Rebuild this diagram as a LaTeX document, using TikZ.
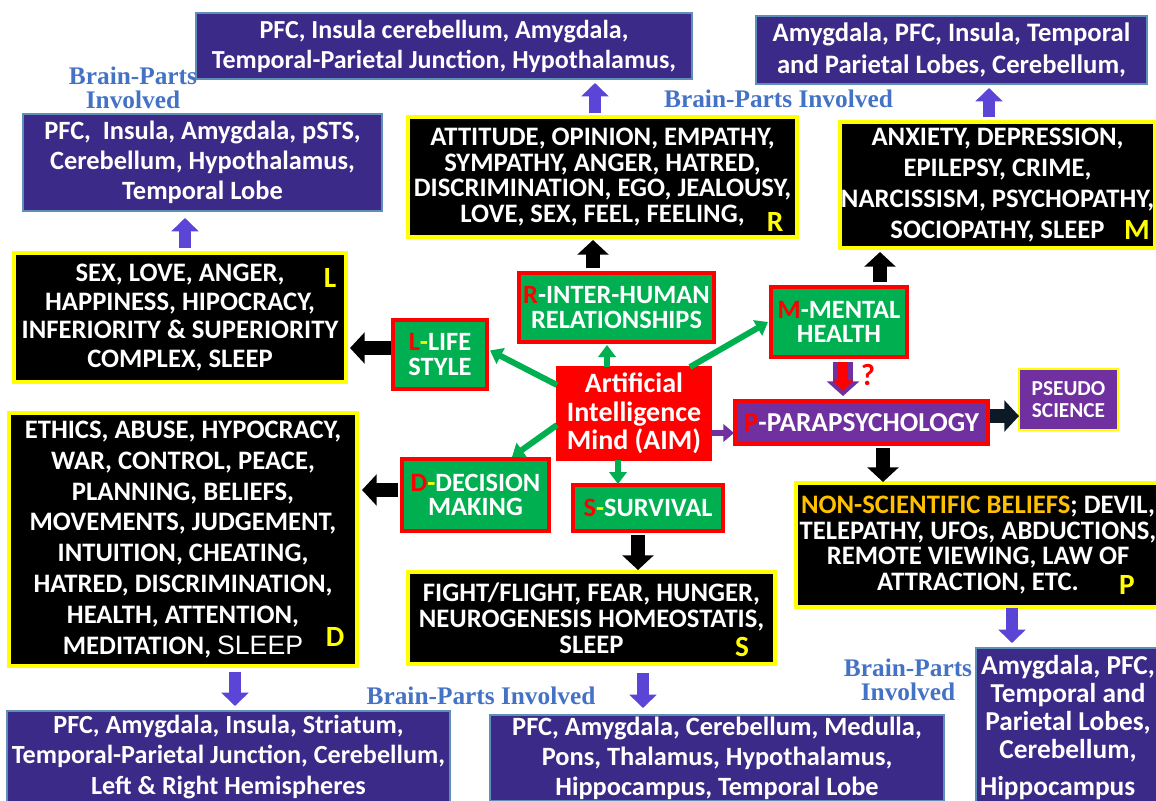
\documentclass[tikz,border=0pt]{standalone}
\usepackage{fontspec}
\setmainfont{Carlito}
\newfontfamily\serifbp{Liberation Serif}
\newfontfamily\arialf{Liberation Sans}
\usetikzlibrary{arrows.meta,calc}
\definecolor{bpurple}{HTML}{3B2A88}
\definecolor{bedge}{HTML}{5F8FB8}
\definecolor{ggreen}{HTML}{00B050}
\definecolor{ppurple}{HTML}{7030A0}
\definecolor{bptext}{HTML}{4472C4}
\definecolor{arrpurple}{HTML}{5B45D6}
\definecolor{gold}{HTML}{FFC000}
\definecolor{yel}{HTML}{FFFF00}
\definecolor{navyblk}{HTML}{0B1A26}
\begin{document}
\begin{tikzpicture}[x=0.75pt,y=-0.75pt,
 every node/.style={inner sep=0pt, outer sep=0pt, align=center},
 box/.style 2 args={minimum width=#1*0.75pt, minimum height=#2*0.75pt},
 brain/.style={draw=bedge, fill=bpurple, line width=1.3pt, text=white, font=\bfseries\fontsize{19.8}{22.5}\selectfont},
 blackbox/.style={draw=yel, fill=black, line width=2.4pt, text=white},
 bfs/.style 2 args={font=\bfseries\fontsize{#1}{#2}\selectfont},
 greenbox/.style={draw=red, fill=ggreen, line width=2.4pt, text=white, font=\bfseries\fontsize{19.8}{18.5}\selectfont},
 tag/.style={text=yel, font=\bfseries\fontsize{22}{22}\selectfont},
 bplabel/.style={text=bptext, font=\serifbp\bfseries\fontsize{19}{18}\selectfont},
 blkarrow/.style={draw=black, line width=11pt, -{Triangle[length=11pt,width=23pt]}},
 vioarrow/.style={draw=arrpurple, line width=9pt, -{Triangle[length=10pt,width=20pt]}},
 grnarrow/.style={draw=ggreen, line width=4.5pt, -{Triangle[length=9pt,width=13pt]}},
]
\useasboundingbox (0,0) rectangle (1156,800);
\clip (0,0) rectangle (1156,800);

% brain-part boxes
\node[brain, box={496}{66}, font=\bfseries\fontsize{19.5}{22.5}\selectfont] (RB) at (444,46) {PFC, Insula cerebellum, Amygdala,\\Temporal-Parietal Junction, Hypothalamus,};
\node[brain, box={391}{68}, font=\bfseries\fontsize{20}{24}\selectfont] (MB) at (951.5,50) {Amygdala, PFC, Insula, Temporal\\and Parietal Lobes, Cerebellum,};
\node[brain, box={359}{97}] (LB) at (202.5,162.5) {PFC,~ Insula, Amygdala, pSTS,\\Cerebellum, Hypothalamus,\\Temporal Lobe};
\node[brain, box={443}{92}, font=\bfseries\fontsize{19.6}{23}\selectfont] (DB) at (228.5,757) {PFC, Amygdala, Insula, Striatum,\\Temporal-Parietal Junction, Cerebellum,\\Left \& Right Hemispheres};
\node[brain, box={454}{86}] (SB) at (717,758) {PFC, Amygdala, Cerebellum, Medulla,\\Pons, Thalamus, Hypothalamus,\\Hippocampus, Temporal Lobe};
\node[brain, box={184}{159}, font=\bfseries\fontsize{20.5}{21}\selectfont] (PB) at (1068,727.5) {Amygdala, PFC,\\Temporal and\\Parietal Lobes,\\Cerebellum,\\[7pt]\makebox[132pt][l]{Hippocampus}};

% labels
\node[bplabel] (bp1) at (133,88) {Brain-Parts\\Involved};
\node[bplabel] (bp2) at (778.5,99) {Brain-Parts Involved};
\node[bplabel] (bp3) at (481,696) {Brain-Parts Involved};
\node[bplabel] (bp4) at (908,680) {Brain-Parts\\Involved};

% black boxes
\node[blackbox, bfs={20}{19.2}, box={389}{120}] (Rb) at (602.5,177) {ATTITUDE, OPINION, EMPATHY,\\SYMPATHY, ANGER, HATRED,\\DISCRIMINATION, EGO, JEALOUSY,\\LOVE, SEX, FEEL, FEELING,};
\node[tag] (Rt) at (775,222) {R};
\node[blackbox, bfs={20}{23.3}, box={315}{126}] (Mb) at (997.5,185) {ANXIETY, DEPRESSION,\\EPILEPSY, CRIME,\\NARCISSISM, PSYCHOPATHY,\\SOCIOPATHY, SLEEP};
\node[tag] (Mt) at (1137,230) {M};
\node[blackbox, bfs={20}{21.3}, box={332}{129}] (Lb) at (180,317.5) {SEX, LOVE, ANGER,\\HAPPINESS, HIPOCRACY,\\INFERIORITY \& SUPERIORITY\\COMPLEX, SLEEP};
\node[tag] (Lt) at (330,278) {L};
\node[blackbox, bfs={20}{23.2}, box={348}{253}] (Db) at (183,539.5) {ETHICS, ABUSE, HYPOCRACY,\\WAR, CONTROL, PEACE,\\PLANNING, BELIEFS,\\MOVEMENTS, JUDGEMENT,\\INTUITION, CHEATING,\\HATRED, DISCRIMINATION,\\HEALTH, ATTENTION,\\MEDITATION, {\arialf\mdseries SLEEP}};
\node[tag] (Dt) at (335,637) {D};
\node[blackbox, bfs={20}{19.5}, box={367}{92}] (Sb) at (591.5,618) {FIGHT/FLIGHT, FEAR, HUNGER,\\NEUROGENESIS HOMEOSTATIS,\\SLEEP};
\node[tag] (St) at (742,647) {S};
\node[blackbox, bfs={20}{19.3}, box={364}{124}] (Pb) at (978,545) {{\color{gold}NON-SCIENTIFIC BELIEFS}; DEVIL,\\TELEPATHY, UFOs, ABDUCTIONS,\\REMOTE VIEWING, LAW OF\\ATTRACTION, ETC.};
\node[tag] (Pt) at (1127,585) {P};

% green boxes
\node[greenbox, box={195}{69}] (Rg) at (616.5,307.5) {{\color{red}R}-INTER-HUMAN\\RELATIONSHIPS};
\node[greenbox, box={136}{70}] (Mg) at (839,322) {{\color{red}M}-MENTAL\\HEALTH};
\node[greenbox, box={94}{69}] (Lg) at (440,354.5) {{\color{red}L}{\color{yel}-}LIFE\\STYLE};
\node[greenbox, box={147}{72}] (Dg) at (475.5,495) {{\color{red}D}{\color{yel}-}DECISION\\MAKING};
\node[greenbox, box={150}{46}] (Sg) at (648,508) {{\color{red}S}{\color{yel}-}SURVIVAL};

% centre and parapsychology
\node[draw=red, fill=red, line width=1pt, text=white, font=\bfseries\fontsize{21}{21.4}\selectfont, box={154}{93}] (AIM) at (634,413.5) {Artificial\\Intelligence\\Mind (AIM)};
\node[draw=red, fill=ppurple, line width=2.4pt, text=white, font=\bfseries\fontsize{20.5}{20}\selectfont, box={253}{43}] (PP) at (861.5,422.5) {{\color{red}P}-PARAPSYCHOLOGY};
\node[draw=yel, fill=ppurple, line width=1.8pt, text=white, font=\bfseries\fontsize{16}{17}\selectfont, box={99}{61}] (PS) at (1068.5,399.5) {PSEUDO\\SCIENCE};
\node[text=red, font=\bfseries\fontsize{23}{23}\selectfont] (qm) at (868,375) {?};

% black block arrows
\draw[blkarrow] ($(Rg.north)+(-23.5,-5)$) -- ($(Rb.south)+(-9.5,3)$);
\draw[blkarrow] ($(Mg.north)+(41,-5)$) -- ($(Mb.south)+(-117.5,4)$);
\draw[blkarrow] ($(Lg.west)+(-2,-6.5)$) -- ($(Lb.east)+(4,30.5)$);
\draw[blkarrow] ($(Dg.west)+(-4,-5)$) -- ($(Db.east)+(5,-49.5)$);
\draw[blkarrow] ($(Sg.south)+(-10,4)$) -- ($(Sb.north)+(46.5,-2)$);
\draw[blkarrow] ($(PP.south)+(21.5,4)$) -- ($(Pb.north)+(-95,-1)$);
\draw[blkarrow, draw=navyblk] ($(PP.east)+(2,-6.5)$) -- ($(PS.west)+(0,16.5)$);

% violet block arrows
\draw[vioarrow] ($(Lb.north)+(5,-5)$) -- ($(LB.south)+(-17.5,7)$);
\draw[vioarrow] ($(Rb.north)+(-7.5,-4)$) -- ($(RB.south)+(151,4)$);
\draw[vioarrow] ($(Mb.north)+(-8.5,-5)$) -- ($(MB.south)+(37.5,4)$);
\draw[vioarrow] ($(Db.south)+(52,6)$) -- ($(DB.north)+(6.5,-5)$);
\draw[vioarrow] ($(Sb.south)+(51.5,9)$) -- ($(SB.north)+(-74,-7)$);
\draw[vioarrow] ($(Pb.south)+(34,1)$) -- ($(PB.north)+(-56,-5)$);

% green arrows from the centre
\draw[grnarrow] ($(AIM.north)+(-27,0)$) -- ($(Rg.south)+(-9.5,3)$);
\draw[grnarrow] ($(AIM.north west)+(0,18)$) -- ($(Lg.east)+(3,-4)$);
\draw[grnarrow] ($(AIM.north east)+(-21,0)$) -- ($(Mg.west)+(-3,0)$);
\draw[grnarrow] ($(AIM.south west)+(0,-35)$) -- ($(Dg.north)+(36.5,-2)$);
\draw[grnarrow] ($(AIM.south)+(-16,0)$) -- ($(Sg.north)+(-30,-1)$);

% to parapsychology
\draw[draw=ppurple, line width=4.5pt, -{Triangle[length=8pt,width=13pt]}] ($(AIM.east)+(0,19.5)$) -- ($(PP.west)+(-1,10.5)$);
\draw[draw=ppurple, line width=15pt, -{Triangle[length=11pt,width=24pt]}] ($(Mg.south)+(4,5)$) -- ($(PP.north)+(-18.5,-5)$);
\draw[draw=red, line width=7pt, -{Triangle[length=8pt,width=15pt]}] ($(Mg.south)+(4,5)$) -- ($(PP.north)+(-18.5,-10)$);
\end{tikzpicture}
\end{document}
